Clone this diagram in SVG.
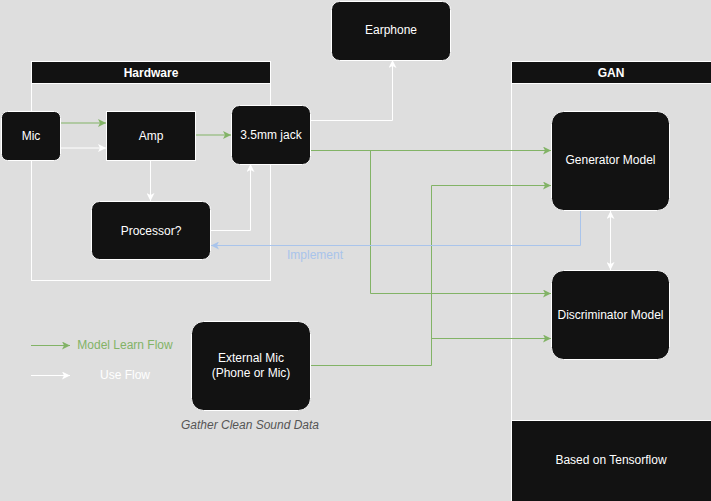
<svg xmlns="http://www.w3.org/2000/svg" width="711" height="501" viewBox="0 0 711 501">
<defs>
<style>
.node{fill:#121212;stroke:#ffffff;stroke-width:1}
.cont{fill:none;stroke:#ffffff;stroke-width:1}
.hdr{fill:#121212;stroke:#ffffff;stroke-width:1}
.t{font-family:"Liberation Sans",Arial,sans-serif;font-size:12px;fill:#ffffff;text-anchor:middle;dominant-baseline:central}
.b{font-weight:bold}
.g{fill:none;stroke:#82b366;stroke-width:1}
.w{fill:none;stroke:#ffffff;stroke-width:1}
.bl{fill:none;stroke:#a9c4eb;stroke-width:1}
</style>
<marker id="ag" viewBox="0 0 10 10" refX="10" refY="5" markerWidth="8" markerHeight="8" markerUnits="userSpaceOnUse" orient="auto"><path d="M0,0 L10,5 L0,10 L2.5,5 Z" fill="#82b366"/></marker>
<marker id="aw" viewBox="0 0 10 10" refX="10" refY="5" markerWidth="8" markerHeight="8" markerUnits="userSpaceOnUse" orient="auto"><path d="M0,0 L10,5 L0,10 L2.5,5 Z" fill="#ffffff"/></marker>
<marker id="awr" viewBox="0 0 10 10" refX="0" refY="5" markerWidth="8" markerHeight="8" markerUnits="userSpaceOnUse" orient="auto"><path d="M10,0 L0,5 L10,10 L7.5,5 Z" fill="#ffffff"/></marker>
<marker id="ab" viewBox="0 0 10 10" refX="10" refY="5" markerWidth="8" markerHeight="8" markerUnits="userSpaceOnUse" orient="auto"><path d="M0,0 L10,5 L0,10 L2.5,5 Z" fill="#a9c4eb"/></marker>
</defs>
<rect x="0" y="0" width="711" height="501" fill="#dedede"/>

<g id="hardware">
<rect class="cont" x="31.5" y="61.5" width="239" height="219"/>
<rect class="hdr" x="31.5" y="61.5" width="239" height="22"/>
<text class="t b" x="151" y="72.5">Hardware</text>
</g>
<g id="gan">
<rect class="cont" x="511.5" y="61.5" width="200" height="440"/>
<rect class="hdr" x="511.5" y="61.5" width="200" height="22"/>
<text class="t b" x="611" y="72.5">GAN</text>
</g>

<g id="connectors">
<path class="g" d="M60,123 H106" marker-end="url(#ag)"/>
<path class="w" d="M60,148 H106" marker-end="url(#aw)"/>
<path class="g" d="M195,135 H231" marker-end="url(#ag)"/>
<path class="w" d="M150.5,160 V201" marker-end="url(#aw)"/>
<path class="w" d="M210,230.5 H250.5 V164" marker-end="url(#aw)"/>
<path class="w" d="M310,120.5 H392.5 V60" marker-end="url(#aw)"/>
<path class="g" d="M310,150.5 H551" marker-end="url(#ag)"/>
<path class="g" d="M370.5,150.5 V293.5 H551" marker-end="url(#ag)"/>
<path class="g" d="M310,365.5 H431.5 V185.5 H551" marker-end="url(#ag)"/>
<path class="g" d="M431.5,338.5 H551" marker-end="url(#ag)"/>
<path class="bl" d="M580.5,210 V245.5 H211" marker-end="url(#ab)"/>
<path class="w" d="M610.5,211 V270" marker-start="url(#awr)" marker-end="url(#aw)"/>
<text x="315" y="255" style="font-family:'Liberation Sans',Arial,sans-serif;font-size:12px;fill:#a9c4eb;text-anchor:middle;dominant-baseline:central">Implement</text>
</g>

<g id="mic"><rect class="node" x="1.5" y="111.5" width="59" height="49" rx="6"/><text class="t" x="31" y="135.5">Mic</text></g>
<g id="amp"><rect class="node" x="106.5" y="111.5" width="89" height="49"/><text class="t" x="151" y="135.5">Amp</text></g>
<g id="jack"><rect class="node" x="231.5" y="105.5" width="79" height="59" rx="8"/><text class="t" x="271" y="135">3.5mm jack</text></g>
<g id="processor"><rect class="node" x="91.5" y="201.5" width="119" height="58" rx="8"/><text class="t" x="151" y="230.5">Processor?</text></g>
<g id="earphone"><rect class="node" x="331.5" y="1.5" width="119" height="59" rx="8"/><text class="t" x="391" y="30">Earphone</text></g>
<g id="generator"><rect class="node" x="551.5" y="111.5" width="118" height="99" rx="12"/><text class="t" x="610.5" y="160">Generator Model</text></g>
<g id="discriminator"><rect class="node" x="551.5" y="270.5" width="118" height="89" rx="12"/><text class="t" x="610.5" y="314.5">Discriminator Model</text></g>
<g id="extmic"><rect class="node" x="191.5" y="321.5" width="119" height="89" rx="12"/><text class="t" x="251" y="358">External Mic</text><text class="t" x="251" y="372.5">(Phone or Mic)</text></g>
<text x="250" y="425" style="font-family:'Liberation Sans',Arial,sans-serif;font-size:12px;font-style:italic;fill:#555555;text-anchor:middle;dominant-baseline:central">Gather Clean Sound Data</text>
<g id="tensorflow"><rect class="node" x="511.5" y="420.5" width="200" height="81"/><text class="t" x="611" y="460">Based on Tensorflow</text></g>

<g id="legend">
<path class="g" d="M31,345.5 H70" marker-end="url(#ag)"/>
<text x="125" y="345" style="font-family:'Liberation Sans',Arial,sans-serif;font-size:12px;fill:#82b366;text-anchor:middle;dominant-baseline:central">Model Learn Flow</text>
<path class="w" d="M31,375.5 H70" marker-end="url(#aw)"/>
<text class="t" x="125" y="375">Use Flow</text>
</g>
</svg>
